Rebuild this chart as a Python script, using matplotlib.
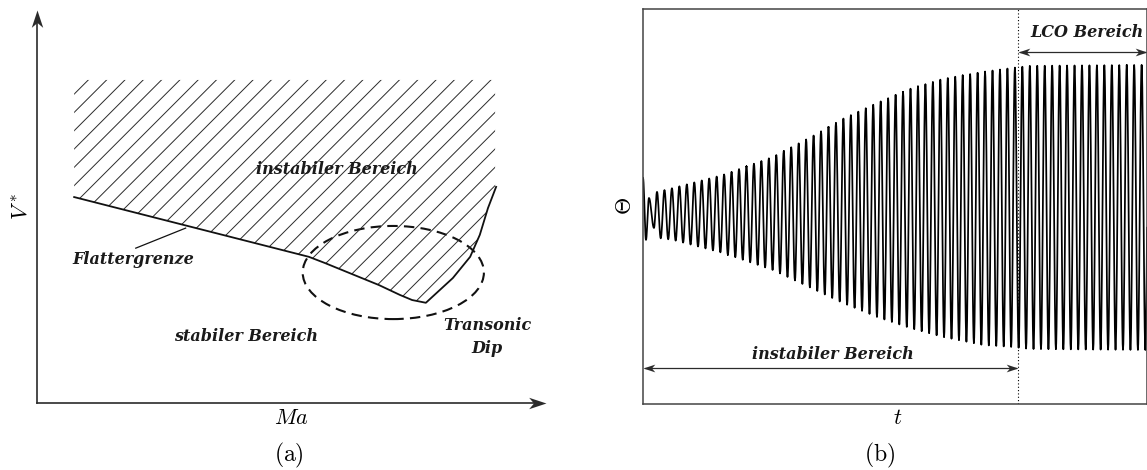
import numpy as np
import matplotlib
matplotlib.use('Agg')
import matplotlib.pyplot as plt
from matplotlib.path import Path
from matplotlib.patches import Polygon, Ellipse

plt.rcParams['mathtext.fontset'] = 'cm'

# (a) Flatterdiagramm, Ma und V* normiert auf 0..1
grenze_ma = [0.073, 0.534, 0.566, 0.672, 0.713, 0.737, 0.764, 0.817, 0.851, 0.870, 0.886, 0.902]
grenze_v = [0.524, 0.372, 0.356, 0.300, 0.275, 0.262, 0.255, 0.318, 0.372, 0.428, 0.496, 0.550]
instabil_oben = 0.822
instabil_rechts = 0.900
dip_mitte = (0.700, 0.332)
dip_groesse = (0.356, 0.237)

# (b) Zeitverlauf, t in Schwingungsperioden, Theta bezogen auf LCO-Amplitude
t_anfang = [0.0, 0.40, 0.80, 1.47]
theta_anfang = [0.211, -0.225, 0.070, -0.141]
env_t = [1.9, 4.0, 10.7, 17.4, 22.8, 26.8, 31.4, 35.8, 40.2, 45.6, 49.6, 51.9, 67.6]
env_oben = [0.113, 0.14, 0.232, 0.359, 0.507, 0.627, 0.739, 0.838, 0.908, 0.958, 0.986, 1.0, 1.007]
env_unten = [-0.211, -0.225, -0.317, -0.437, -0.570, -0.669, -0.768, -0.845, -0.908, -0.965, -0.979, -0.993, -1.0]
t_erste_spitze = 1.88
t_lco = 50.3
t_ende = 67.6

bi = dict(family='DejaVu Serif', weight='bold', style='italic', fontsize=11.5, color='#1a1a1a')
grau = '#2b2b2b'


def spitze(winkel):
    # Pfeilspitze wie LaTeX "stealth", Spitze im Ursprung
    v = np.array([(0, 0), (-1, 0.33), (-0.72, 0), (-1, -0.33), (0, 0)])
    w = np.deg2rad(winkel)
    r = np.array([[np.cos(w), -np.sin(w)], [np.sin(w), np.cos(w)]])
    return Path(v @ r.T, [Path.MOVETO, Path.LINETO, Path.LINETO, Path.LINETO, Path.CLOSEPOLY])


fig = plt.figure(figsize=(11.47, 4.70), dpi=100)

# ---------------- (a)
ax = fig.add_axes([37 / 1147, 67 / 470, 509 / 1147, 393 / 470])
ax.set_xlim(0, 1)
ax.set_ylim(0, 1)
ax.axis('off')

ax.plot([0, 0], [0, 0.98], color=grau, lw=1.2, clip_on=False)
ax.plot([0, 0.98], [0, 0], color=grau, lw=1.2, clip_on=False)
ax.plot(0, 1, marker=spitze(90), ms=25, color=grau, mew=0, clip_on=False)
ax.plot(1, 0, marker=spitze(0), ms=25, color=grau, mew=0, clip_on=False)

ecken = [(grenze_ma[0], instabil_oben), (instabil_rechts, instabil_oben), (instabil_rechts, grenze_v[-1])]
ecken += list(zip(grenze_ma[::-1], grenze_v[::-1]))
feld = Polygon(ecken, closed=True, facecolor='none', edgecolor='none')
ax.add_patch(feld)

bb = ax.get_window_extent()
steigung = bb.width / bb.height
schritt = 18.3 / bb.width
for k in range(-40, 40):
    x0 = 0.1008 + k * schritt
    xs = np.array([x0 - 1.5, x0 + 1.5])
    ys = instabil_oben + steigung * (xs - x0)
    ln, = ax.plot(xs, ys, color='#2a2a2a', lw=0.7)
    ln.set_clip_path(feld)

ax.plot(grenze_ma, grenze_v, color='#111111', lw=1.3, solid_joinstyle='round')
ax.add_patch(Ellipse(dip_mitte, dip_groesse[0], dip_groesse[1], fill=False,
                     edgecolor='#111111', lw=1.5, ls=(0, (5, 3))))
ax.plot([0.194, 0.292], [0.394, 0.445], color='#111111', lw=0.9)

ax.text(0.590, 0.595, 'instabiler Bereich', ha='center', va='center', **bi)
ax.text(0.410, 0.170, 'stabiler Bereich', ha='center', va='center', **bi)
ax.text(0.190, 0.366, 'Flattergrenze', ha='center', va='center', **bi)
ax.text(0.885, 0.168, 'Transonic\nDip', ha='center', va='center', linespacing=1.4, **bi)

fig.text(21 / 1147, 1 - 207 / 470, r'$V^*$', rotation=90, ha='center', va='center', fontsize=16)
fig.text(291 / 1147, 1 - 418 / 470, r'$Ma$', ha='center', va='center', fontsize=16)
fig.text(289 / 1147, 1 - 455 / 470, r'$(\mathrm{a})$', ha='center', va='center', fontsize=17)

# ---------------- (b)
bx = fig.add_axes([643 / 1147, 66 / 470, 504 / 1147, 395 / 470])
bx.set_xlim(0, t_ende)
bx.set_ylim(-1.38, 1.40)
bx.set_xticks([])
bx.set_yticks([])
for s in bx.spines.values():
    s.set_color('#444444')
    s.set_linewidth(1.1)

# Extrema: Anfangsausschlag, danach abwechselnd Spitze/Tal auf der Huellkurve
t_ext = list(t_anfang)
th_ext = list(theta_anfang)
n = 0
while True:
    tk = t_erste_spitze + n * 0.5
    if tk > t_ende + 0.5:
        break
    t_ext.append(tk)
    if n % 2 == 0:
        th_ext.append(np.interp(tk, env_t, env_oben))
    else:
        th_ext.append(np.interp(tk, env_t, env_unten))
    n += 1

tt, th = [], []
for i in range(len(t_ext) - 1):
    s = np.linspace(0, 1, 12)
    tt.append(t_ext[i] + s * (t_ext[i + 1] - t_ext[i]))
    th.append(th_ext[i] + (th_ext[i + 1] - th_ext[i]) * (1 - np.cos(np.pi * s)) / 2)
bx.plot(np.concatenate(tt), np.concatenate(th), color='black', lw=1.25)

bx.axvline(t_lco, color='black', lw=0.8, ls=(0, (1, 2)))

y_inst = -1.127
bx.plot([0.3, t_lco - 0.3], [y_inst, y_inst], color=grau, lw=0.9)
bx.plot(0, y_inst, marker=spitze(180), ms=17, color=grau, mew=0, clip_on=False)
bx.plot(t_lco, y_inst, marker=spitze(0), ms=17, color=grau, mew=0, clip_on=False)
bx.text(t_lco / 2 + 0.3, -1.035, 'instabiler Bereich', ha='center', va='center', **bi)

y_lco = 1.099
bx.plot([t_lco + 0.3, t_ende - 0.3], [y_lco, y_lco], color=grau, lw=0.9)
bx.plot(t_lco, y_lco, marker=spitze(180), ms=17, color=grau, mew=0, clip_on=False)
bx.plot(t_ende, y_lco, marker=spitze(0), ms=17, color=grau, mew=0, clip_on=False)
bx.text(59.6, 1.232, 'LCO Bereich', ha='center', va='center', **bi)

fig.text(625 / 1147, 1 - 206 / 470, r'$\mathit{\Theta}$', rotation=90, ha='center', va='center', fontsize=16)
fig.text(898 / 1147, 1 - 418 / 470, r'$t$', ha='center', va='center', fontsize=16)
fig.text(880 / 1147, 1 - 455 / 470, r'$(\mathrm{b})$', ha='center', va='center', fontsize=17)

fig.savefig('out.png', dpi=100)
